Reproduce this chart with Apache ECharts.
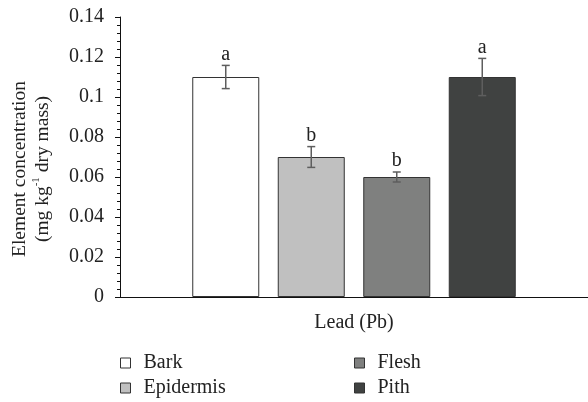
<!DOCTYPE html>
<html><head><meta charset="utf-8">
<script src="https://cdn.jsdelivr.net/npm/echarts@6/dist/echarts.min.js"></script>
<style>html,body{margin:0;padding:0;background:#fff}#c{width:588px;height:402px}</style>
</head><body><div id="c"></div>
<script>
var categories = ['Lead (Pb)'];
var seriesNames = ['Bark', 'Epidermis', 'Flesh', 'Pith'];
var values = [0.110, 0.070, 0.060, 0.110];
var errors = [0.0058, 0.0052, 0.0025, 0.0093];
var letters = ['a', 'b', 'b', 'a'];
var yTicks = [0, 0.02, 0.04, 0.06, 0.08, 0.1, 0.12, 0.14];

var colors = ['#ffffff', '#c0c0c0', '#7f807f', '#404241'];
var FONT = 'Liberation Serif';
var FS = 20;
var BAR_W = 67, BAR_GAP = 18.5;

var chart = echarts.init(document.getElementById('c'), null, {renderer: 'canvas'});

var series = seriesNames.map(function (n, i) {
  return {
    name: n, type: 'bar', data: [values[i]], barWidth: BAR_W, barGap: (BAR_GAP / BAR_W * 100) + '%',
    itemStyle: {color: colors[i], borderColor: '#333', borderWidth: 1},
    animation: false
  };
});

series.push({
  type: 'custom', name: 'err', silent: true, animation: false, z: 10,
  data: seriesNames.map(function (n, i) { return [0, values[i], errors[i], i]; }),
  renderItem: function (params, api) {
    var i = api.value(3);
    var v = api.value(1), e = api.value(2);
    var base = api.coord([0, v]);
    var cx = base[0] + (i - 1.5) * (BAR_W + BAR_GAP);
    var yt = api.coord([0, v + e])[1];
    var yb = api.coord([0, v - e])[1];
    var st = {stroke: '#5e5e5e', lineWidth: 1.5};
    return {type: 'group', children: [
      {type: 'line', shape: {x1: cx, y1: yt, x2: cx, y2: yb}, style: st},
      {type: 'line', shape: {x1: cx - 4, y1: yt, x2: cx + 4, y2: yt}, style: st},
      {type: 'line', shape: {x1: cx - 4, y1: yb, x2: cx + 4, y2: yb}, style: st},
      {type: 'text', x: cx, y: yt - 1, style: {text: letters[i], fontFamily: FONT, fontSize: FS, fill: '#222', align: 'center', verticalAlign: 'bottom'}}
    ]};
  }
});

var legendPos = [[115, 348], [115, 373], [349, 348], [349, 373]];
var legends = seriesNames.map(function (n, i) {
  return {
    data: [n], left: legendPos[i][0], top: legendPos[i][1],
    itemWidth: 10, itemHeight: 10, icon: 'rect',
    itemStyle: {borderColor: '#333', borderWidth: 1},
    textStyle: {fontFamily: FONT, fontSize: FS, color: '#222', padding: [0, 0, 0, 8]},
    selectedMode: false
  };
});

chart.setOption({
  animation: false,
  grid: {left: 118, right: -2, top: 17, bottom: 105, containLabel: false},
  legend: legends,
  xAxis: {
    type: 'category', data: categories,
    axisLine: {lineStyle: {color: '#111', width: 1}},
    axisTick: {alignWithLabel: true, length: 4, lineStyle: {color: '#111'}},
    axisLabel: {fontFamily: FONT, fontSize: FS, color: '#222', margin: 16}
  },
  yAxis: {
    type: 'value', min: 0, max: 0.14, interval: 0.02,
    name: 'Element concentration\n(mg kg{sup|-1} dry mass)',
    nameLocation: 'middle', nameGap: 66, nameRotate: 90,
    nameTextStyle: {fontFamily: FONT, fontSize: 19.5, color: '#222', lineHeight: 23, padding: [0, 24, 0, 0],
      rich: {sup: {fontFamily: FONT, fontSize: 11, verticalAlign: 'top', lineHeight: 12, color: '#222'}}},
    axisLine: {show: true, lineStyle: {color: '#111', width: 1}},
    axisTick: {show: true, length: 5, lineStyle: {color: '#111'}},
    minorTick: {show: true, splitNumber: 5, length: 3, lineStyle: {color: '#111'}},
    splitLine: {show: false},
    axisLabel: {fontFamily: FONT, fontSize: FS, color: '#222', margin: 16,
      formatter: function (v) { for (var k = 0; k < yTicks.length; k++) { if (Math.abs(yTicks[k] - v) < 1e-9) return String(yTicks[k]); } return ''; }}
  },
  series: series
});
</script></body></html>
